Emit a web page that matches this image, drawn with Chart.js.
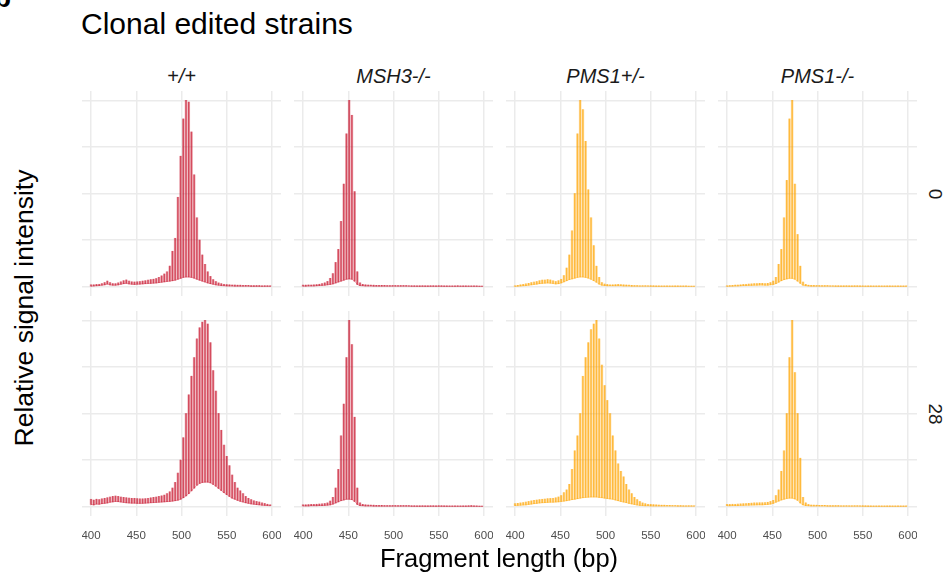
<!DOCTYPE html>
<html>
<head>
<meta charset="utf-8">
<script src="https://cdn.jsdelivr.net/npm/chart.js@4.4.1/dist/chart.umd.min.js"></script>
<style>
    body { margin: 0; background: #fff; width: 947px; height: 577px; position: relative; overflow: hidden;
           font-family: "Liberation Sans", Arial, sans-serif; }
    .txt { position: absolute; white-space: nowrap; line-height: 1; color: #000; }
    canvas { position: absolute; }
</style>
</head>
<body>
<div class="txt" style="left:-6px; top:-16px; font-size:28px; font-weight:bold;">b</div>
<div class="txt" style="left:81px; top:8.5px; font-size:30px;">Clonal edited strains</div>
<div id="stage"></div>
<div class="txt" style="left:499px; top:545.5px; font-size:25.5px; transform:translateX(-50%);">Fragment length (bp)</div>
<div class="txt" style="left:24px; top:308px; font-size:26.5px; transform:translate(-50%,-50%) rotate(-90deg);">Relative signal intensity</div>

<script>
// fragment sizes of the repeat peaks (bp)
const fragmentBp = [400, 403, 406, 409, 412, 415, 418, 421, 424, 427,
    430, 433, 436, 439, 442, 445, 448, 451, 454, 457,
    460, 463, 466, 469, 472, 475, 478, 481, 484, 487,
    490, 493, 496, 499, 502, 505, 508, 511, 514, 517,
    520, 523, 526, 529, 532, 535, 538, 541, 544, 547,
    550, 553, 556, 559, 562, 565, 568, 571, 574, 577,
    580, 583, 586, 589, 592, 595, 598];

const genotypes = ['+/+', 'MSH3-/-', 'PMS1+/-', 'PMS1-/-'];
const days = ['0', '28'];
const xTicks = [400, 450, 500, 550, 600];
const yTicks = [0, 0.25, 0.5, 0.75, 1];

// +/+ day 0
const wtDay0Peak = [.010, .010, .012, .013, .016, .022, .030, .022, .016, .016,
    .020, .026, .032, .036, .030, .026, .025, .026, .028, .030,
    .032, .035, .038, .040, .044, .050, .058, .068, .080, .110,
    .190, .260, .480, .700, .900, 1.00, .990, .830, .600, .370,
    .250, .170, .120, .080, .055, .038, .028, .020, .016, .013,
    .011, .010, .009, .009, .008, .008, .007, .007, .007, .006,
    .006, .006, .006, .005, .005, .005, .005];
const wtDay0Trough = [.003, .004, .005, .006, .008, .010, .014, .010, .008, .008,
    .010, .013, .016, .018, .015, .013, .012, .013, .014, .015,
    .016, .017, .018, .019, .020, .022, .024, .026, .028, .030,
    .032, .035, .040, .045, .050, .052, .052, .050, .046, .040,
    .035, .030, .025, .020, .016, .013, .010, .008, .006, .005,
    .004, .004, .004, .003, .003, .003, .003, .003, .003, .002,
    .002, .002, .002, .002, .002, .002, .002];

// MSH3-/- day 0
const msh3Day0Peak = [.008, .008, .009, .009, .010, .011, .013, .016, .020, .028,
    .045, .070, .130, .200, .350, .550, .820, 1.00, .920, .510,
    .080, .020, .012, .010, .009, .008, .008, .007, .007, .007,
    .007, .006, .006, .006, .006, .006, .006, .006, .006, .005,
    .005, .005, .005, .005, .005, .005, .005, .005, .005, .005,
    .005, .005, .004, .004, .004, .004, .004, .005, .004, .004,
    .004, .004, .004, .004, .004, .003, .003];
const msh3Day0Trough = [.003, .003, .004, .004, .004, .005, .006, .007, .008, .010,
    .012, .015, .020, .025, .030, .035, .040, .042, .040, .030,
    .012, .006, .005, .004, .004, .004, .003, .003, .003, .003,
    .003, .003, .003, .003, .003, .003, .003, .003, .003, .003,
    .002, .002, .002, .002, .002, .002, .002, .002, .002, .002,
    .002, .002, .002, .002, .002, .002, .002, .002, .002, .002,
    .002, .002, .002, .002, .002, .002, .002];

// PMS1+/- day 0
const pms1HetDay0Peak = [.005, .007, .010, .012, .015, .018, .022, .025, .028, .032,
    .035, .036, .038, .036, .032, .028, .032, .040, .060, .100,
    .170, .300, .500, .820, 1.00, .950, .780, .520, .370, .220,
    .110, .050, .022, .014, .012, .010, .010, .011, .012, .011,
    .010, .009, .008, .007, .006, .006, .005, .005, .005, .005,
    .005, .005, .004, .004, .004, .004, .004, .004, .004, .004,
    .004, .004, .004, .004, .003, .003, .003];
const pms1HetDay0Trough = [.002, .003, .004, .005, .006, .008, .010, .012, .014, .016,
    .018, .019, .020, .019, .017, .015, .016, .020, .026, .032,
    .038, .042, .046, .050, .052, .052, .050, .046, .040, .032,
    .024, .014, .008, .006, .005, .005, .005, .005, .005, .005,
    .004, .004, .004, .003, .003, .003, .003, .003, .003, .003,
    .002, .002, .002, .002, .002, .002, .002, .002, .002, .002,
    .002, .002, .002, .002, .002, .002, .002];

// PMS1-/- day 0
const pms1NullDay0Peak = [.005, .006, .007, .008, .009, .010, .012, .013, .014, .015,
    .016, .017, .018, .018, .017, .018, .022, .030, .050, .120,
    .200, .370, .570, .900, 1.00, .550, .280, .110, .025, .012,
    .008, .007, .007, .006, .006, .006, .006, .006, .005, .005,
    .005, .005, .005, .005, .005, .005, .005, .005, .005, .005,
    .004, .004, .004, .004, .004, .004, .004, .004, .004, .004,
    .004, .004, .004, .004, .004, .004, .004];
const pms1NullDay0Trough = [.002, .003, .003, .004, .004, .005, .006, .006, .007, .007,
    .008, .008, .009, .009, .008, .008, .010, .012, .016, .024,
    .032, .038, .042, .045, .045, .040, .030, .018, .008, .005,
    .004, .003, .003, .003, .003, .003, .003, .003, .003, .003,
    .002, .002, .002, .002, .002, .002, .002, .002, .002, .002,
    .002, .002, .002, .002, .002, .002, .002, .002, .002, .002,
    .002, .002, .002, .002, .002, .002, .002];

// +/+ day 28
const wtDay28Peak = [.040, .035, .040, .038, .042, .045, .048, .052, .055, .057,
    .055, .052, .050, .048, .046, .045, .045, .043, .042, .042,
    .043, .045, .047, .050, .052, .055, .058, .062, .070, .080,
    .100, .130, .180, .250, .370, .500, .600, .700, .800, .900,
    .960, .990, 1.00, .980, .880, .730, .620, .500, .410, .330,
    .270, .220, .170, .130, .100, .085, .070, .055, .045, .038,
    .032, .028, .025, .020, .017, .013, .010];
const wtDay28Trough = [.012, .010, .014, .013, .016, .018, .020, .024, .026, .028,
    .027, .025, .023, .021, .020, .019, .019, .018, .018, .018,
    .019, .020, .021, .022, .023, .024, .025, .026, .027, .028,
    .030, .032, .035, .040, .048, .058, .070, .085, .100, .115,
    .125, .130, .132, .132, .128, .120, .110, .098, .087, .075,
    .065, .055, .046, .040, .034, .029, .025, .021, .018, .015,
    .013, .011, .010, .008, .007, .006, .005];

// MSH3-/- day 28
const msh3Day28Peak = [.010, .010, .011, .012, .012, .013, .014, .015, .017, .020,
    .030, .050, .100, .200, .380, .550, .800, 1.00, .870, .480,
    .100, .020, .012, .010, .009, .008, .008, .007, .007, .007,
    .006, .006, .006, .006, .006, .006, .006, .006, .006, .006,
    .005, .005, .005, .005, .005, .005, .005, .005, .005, .005,
    .005, .005, .005, .004, .004, .004, .004, .004, .004, .004,
    .004, .005, .006, .005, .004, .003, .003];
const msh3Day28Trough = [.004, .004, .004, .005, .005, .005, .006, .006, .007, .008,
    .010, .014, .020, .026, .032, .036, .040, .040, .038, .028,
    .012, .006, .005, .004, .004, .004, .003, .003, .003, .003,
    .003, .003, .003, .003, .003, .003, .003, .003, .003, .003,
    .002, .002, .002, .002, .002, .002, .002, .002, .002, .002,
    .002, .002, .002, .002, .002, .002, .002, .002, .002, .002,
    .002, .002, .002, .002, .002, .002, .002];

// PMS1+/- day 28
const pms1HetDay28Peak = [.016, .018, .020, .022, .025, .028, .031, .034, .036, .038,
    .040, .041, .043, .044, .045, .048, .052, .060, .075, .090,
    .120, .200, .300, .380, .500, .700, .800, .880, .950, .980,
    1.00, .900, .760, .650, .570, .500, .380, .300, .230, .190,
    .160, .120, .090, .070, .050, .038, .028, .020, .016, .013,
    .012, .011, .010, .009, .008, .008, .007, .007, .006, .006,
    .006, .006, .005, .005, .005, .005, .005];
const pms1HetDay28Trough = [.006, .007, .008, .009, .010, .012, .014, .016, .018, .020,
    .021, .022, .023, .024, .024, .025, .026, .028, .030, .032,
    .035, .038, .040, .043, .046, .048, .050, .051, .052, .052,
    .052, .050, .048, .046, .044, .042, .040, .036, .032, .028,
    .025, .022, .018, .015, .012, .009, .007, .006, .005, .005,
    .004, .004, .004, .004, .004, .004, .004, .004, .004, .004,
    .003, .003, .003, .003, .003, .003, .003];

// PMS1-/- day 28
const pms1NullDay28Peak = [.012, .012, .013, .013, .014, .015, .016, .017, .018, .019,
    .020, .020, .021, .021, .022, .024, .028, .034, .060, .090,
    .190, .300, .500, .800, 1.00, .720, .500, .260, .050, .020,
    .012, .009, .008, .008, .007, .007, .007, .006, .006, .006,
    .006, .006, .005, .005, .005, .005, .005, .005, .005, .005,
    .005, .005, .005, .004, .004, .004, .004, .004, .004, .004,
    .004, .004, .004, .004, .004, .004, .004];
const pms1NullDay28Trough = [.005, .005, .006, .006, .006, .007, .007, .008, .008, .009,
    .009, .010, .010, .010, .011, .012, .014, .018, .024, .030,
    .036, .040, .044, .046, .046, .042, .034, .020, .010, .006,
    .005, .004, .004, .004, .004, .004, .004, .003, .003, .003,
    .003, .003, .003, .003, .003, .003, .003, .003, .003, .003,
    .002, .002, .002, .002, .002, .002, .002, .002, .002, .002,
    .002, .002, .002, .002, .002, .002, .002];

const RED = '200,20,45';
const ORANGE = '255,165,0';

const panels = [
    { col: 0, row: 0, peak: wtDay0Peak, trough: wtDay0Trough, rgb: RED },
    { col: 1, row: 0, peak: msh3Day0Peak, trough: msh3Day0Trough, rgb: RED },
    { col: 2, row: 0, peak: pms1HetDay0Peak, trough: pms1HetDay0Trough, rgb: ORANGE },
    { col: 3, row: 0, peak: pms1NullDay0Peak, trough: pms1NullDay0Trough, rgb: ORANGE },
    { col: 0, row: 1, peak: wtDay28Peak, trough: wtDay28Trough, rgb: RED },
    { col: 1, row: 1, peak: msh3Day28Peak, trough: msh3Day28Trough, rgb: RED },
    { col: 2, row: 1, peak: pms1HetDay28Peak, trough: pms1HetDay28Trough, rgb: ORANGE },
    { col: 3, row: 1, peak: pms1NullDay28Peak, trough: pms1NullDay28Trough, rgb: ORANGE }
];

// panel geometry (px)
const colLeft = [82, 294, 506, 718];
const rowTop = [91, 311];
const panelW = 199, panelH = 205, tickH = 30;
const FONT = '"Liberation Sans", Arial, sans-serif';

const stage = document.getElementById('stage');

// strip labels
genotypes.forEach((g, c) => {
    const d = document.createElement('div');
    d.className = 'txt';
    d.style.cssText = `left:${colLeft[c]}px; top:65.5px; width:${panelW}px; text-align:center; font-size:20px; font-style:italic; color:#1a1a1a;`;
    d.textContent = g;
    stage.appendChild(d);
});
days.forEach((label, r) => {
    const d = document.createElement('div');
    d.className = 'txt';
    d.style.cssText = `left:935px; top:${rowTop[r] + panelH / 2}px; font-size:19px; color:#1a1a1a; transform:translate(-50%,-50%) rotate(90deg);`;
    d.textContent = label;
    stage.appendChild(d);
});

function makePanel(p) {
    const showTicks = p.row === 1;
    const canvas = document.createElement('canvas');
    canvas.width = panelW;
    canvas.height = panelH + (showTicks ? tickH : 0);
    canvas.style.left = colLeft[p.col] + 'px';
    canvas.style.top = rowTop[p.row] + 'px';
    stage.appendChild(canvas);

    const spikes = fragmentBp.map((bp, i) => ({ x: bp, y: [p.trough[i], p.peak[i]] }));
    const floor = fragmentBp.map((bp, i) => ({ x: bp, y: p.trough[i] }));
    const gridStyle = { color: '#ebebeb', lineWidth: 1.5, drawTicks: false, offset: false };

    new Chart(canvas.getContext('2d'), {
        type: 'bar',
        data: {
            datasets: [
                { data: spikes, backgroundColor: `rgba(${p.rgb},0.32)`, barThickness: 2.0, grouped: false, order: 3 },
                { data: spikes, backgroundColor: `rgba(${p.rgb},0.65)`, barThickness: 0.8, grouped: false, order: 2 },
                { type: 'line', data: floor, borderColor: `rgba(${p.rgb},0.5)`, borderWidth: 0.7,
                  pointRadius: 0, tension: 0, order: 1 }
            ]
        },
        options: {
            responsive: false,
            animation: false,
            devicePixelRatio: 1,
            events: [],
            layout: { padding: 0 },
            plugins: { legend: { display: false }, tooltip: { enabled: false } },
            scales: {
                x: {
                    type: 'linear', min: 390, max: 610, offset: false,
                    afterBuildTicks: s => { s.ticks = xTicks.map(v => ({ value: v })); },
                    afterFit: s => {
                        s.height = showTicks ? tickH : 0;
                        s.paddingLeft = 0; s.paddingRight = 0;
                    },
                    grid: gridStyle,
                    border: { display: false },
                    ticks: { display: showTicks, padding: 13, color: '#4d4d4d', maxRotation: 0, autoSkip: false,
                             font: { family: FONT, size: 11.5 } }
                },
                y: {
                    min: -0.05, max: 1.05,
                    afterBuildTicks: s => { s.ticks = yTicks.map(v => ({ value: v })); },
                    afterFit: s => { s.width = 0; s.paddingTop = 0; s.paddingBottom = 0; },
                    grid: gridStyle,
                    border: { display: false },
                    ticks: { display: false }
                }
            }
        }
    });
}

panels.forEach(makePanel);
</script>
</body>
</html>
